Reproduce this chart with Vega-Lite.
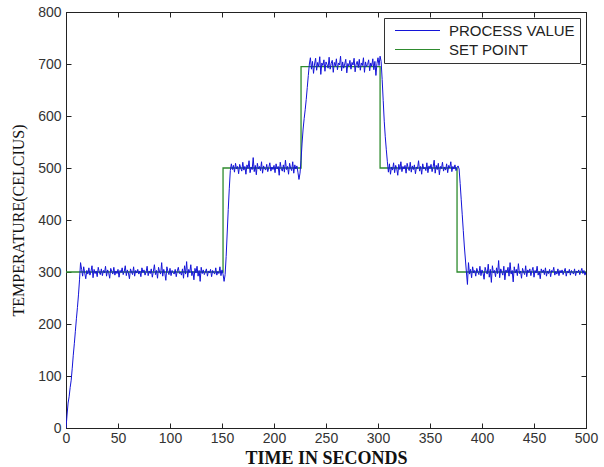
{
  "$schema": "https://vega.github.io/schema/vega-lite/v6.json",
  "width": 520,
  "height": 416,
  "autosize": {"type": "none"},
  "padding": {"left": 66, "top": 12, "right": 18, "bottom": 39},
  "background": "white",
  "config": {
    "view": {"stroke": "#222", "strokeWidth": 1},
    "axis": {
      "grid": false,
      "domainColor": "#222",
      "tickColor": "#222",
      "tickSize": -5,
      "labelFlush": false,
      "labelOverlap": false,
      "labelFont": "Liberation Sans",
      "labelFontSize": 14,
      "labelColor": "#333",
      "titleColor": "#111"
    },
    "legend": {
      "labelFont": "Liberation Sans",
      "labelFontSize": 15,
      "labelColor": "#222"
    }
  },
  "datasets": {
    "pv": [
      {"t":0,"v":0},{"t":1,"v":25},{"t":2,"v":48},{"t":3,"v":60},{"t":4,"v":78},{"t":5,"v":92},{"t":6,"v":115},{"t":7,"v":140},{"t":8,"v":162},{"t":9,"v":186},{"t":10,"v":210},{"t":11,"v":232},{"t":12,"v":256},{"t":13,"v":285},
      {"t":14,"v":318},{"t":15,"v":305},{"t":16,"v":292},{"t":17,"v":310},{"t":18,"v":298},{"t":19,"v":287},{"t":20,"v":303},{"t":21,"v":296},{"t":22,"v":308},{"t":23,"v":294},{"t":24,"v":301},{"t":25,"v":312},{"t":26,"v":289},{"t":27,"v":305},{"t":28,"v":297},{"t":29,"v":302},{"t":30,"v":291},{"t":31,"v":309},{"t":32,"v":300},{"t":33,"v":295},{"t":34,"v":306},{"t":35,"v":293},{"t":36,"v":303},{"t":37,"v":298},{"t":38,"v":311},{"t":39,"v":292},{"t":40,"v":304},{"t":41,"v":299},{"t":42,"v":288},{"t":43,"v":307},{"t":44,"v":301},{"t":45,"v":296},{"t":46,"v":309},{"t":47,"v":294},{"t":48,"v":302},{"t":49,"v":297},{"t":50,"v":305},{"t":51,"v":290},{"t":52,"v":303},{"t":53,"v":299},{"t":54,"v":308},{"t":55,"v":295},{"t":56,"v":301},{"t":57,"v":312},{"t":58,"v":293},{"t":59,"v":304},{"t":60,"v":298},{"t":61,"v":287},{"t":62,"v":306},{"t":63,"v":300},{"t":64,"v":295},{"t":65,"v":310},{"t":66,"v":292},{"t":67,"v":303},{"t":68,"v":298},{"t":69,"v":305},{"t":70,"v":296},{"t":71,"v":302},{"t":72,"v":291},{"t":73,"v":308},{"t":74,"v":299},{"t":75,"v":304},{"t":76,"v":294},{"t":77,"v":300},{"t":78,"v":311},{"t":79,"v":293},{"t":80,"v":302},{"t":81,"v":297},{"t":82,"v":306},{"t":83,"v":290},{"t":84,"v":301},{"t":85,"v":314},{"t":86,"v":295},{"t":87,"v":303},{"t":88,"v":288},{"t":89,"v":309},{"t":90,"v":300},{"t":91,"v":296},{"t":92,"v":318},{"t":93,"v":292},{"t":94,"v":305},{"t":95,"v":298},{"t":96,"v":284},{"t":97,"v":310},{"t":98,"v":301},{"t":99,"v":295},{"t":100,"v":307},{"t":101,"v":293},{"t":102,"v":303},{"t":103,"v":299},{"t":104,"v":296},{"t":105,"v":305},{"t":106,"v":291},{"t":107,"v":302},{"t":108,"v":309},{"t":109,"v":297},{"t":110,"v":300},{"t":111,"v":294},{"t":112,"v":306},{"t":113,"v":288},{"t":114,"v":312},{"t":115,"v":296},{"t":116,"v":320},{"t":117,"v":290},{"t":118,"v":305},{"t":119,"v":299},{"t":120,"v":314},{"t":121,"v":293},{"t":122,"v":301},{"t":123,"v":285},{"t":124,"v":307},{"t":125,"v":298},{"t":126,"v":311},{"t":127,"v":292},{"t":128,"v":303},{"t":129,"v":282},{"t":130,"v":309},{"t":131,"v":297},{"t":132,"v":304},{"t":133,"v":295},{"t":134,"v":300},{"t":135,"v":306},{"t":136,"v":292},{"t":137,"v":302},{"t":138,"v":298},{"t":139,"v":305},{"t":140,"v":291},{"t":141,"v":303},{"t":142,"v":299},{"t":143,"v":296},{"t":144,"v":308},{"t":145,"v":294},{"t":146,"v":301},{"t":147,"v":297},{"t":148,"v":310},{"t":149,"v":293},{"t":150,"v":304},{"t":151,"v":296},{"t":152,"v":282},
      {"t":153,"v":295},{"t":154,"v":330},{"t":155,"v":375},{"t":156,"v":420},{"t":157,"v":460},{"t":158,"v":495},{"t":159,"v":508},
      {"t":160,"v":497},{"t":161,"v":505},{"t":162,"v":492},{"t":163,"v":509},{"t":164,"v":498},{"t":165,"v":503},{"t":166,"v":489},{"t":167,"v":507},{"t":168,"v":500},{"t":169,"v":494},{"t":170,"v":511},{"t":171,"v":496},{"t":172,"v":503},{"t":173,"v":488},{"t":174,"v":506},{"t":175,"v":499},{"t":176,"v":514},{"t":177,"v":491},{"t":178,"v":502},{"t":179,"v":497},{"t":180,"v":520},{"t":181,"v":493},{"t":182,"v":505},{"t":183,"v":487},{"t":184,"v":509},{"t":185,"v":498},{"t":186,"v":503},{"t":187,"v":495},{"t":188,"v":512},{"t":189,"v":490},{"t":190,"v":504},{"t":191,"v":499},{"t":192,"v":496},{"t":193,"v":507},{"t":194,"v":493},{"t":195,"v":501},{"t":196,"v":510},{"t":197,"v":494},{"t":198,"v":502},{"t":199,"v":497},{"t":200,"v":505},{"t":201,"v":491},{"t":202,"v":508},{"t":203,"v":498},{"t":204,"v":503},{"t":205,"v":486},{"t":206,"v":511},{"t":207,"v":499},{"t":208,"v":494},{"t":209,"v":506},{"t":210,"v":492},{"t":211,"v":515},{"t":212,"v":497},{"t":213,"v":503},{"t":214,"v":488},{"t":215,"v":509},{"t":216,"v":500},{"t":217,"v":495},{"t":218,"v":512},{"t":219,"v":490},{"t":220,"v":506},{"t":221,"v":498},{"t":222,"v":504},{"t":223,"v":492},{"t":224,"v":478},
      {"t":225,"v":490},{"t":226,"v":515},{"t":227,"v":548},{"t":228,"v":575},{"t":229,"v":595},{"t":230,"v":612},{"t":231,"v":632},{"t":232,"v":655},{"t":233,"v":678},{"t":234,"v":700},{"t":235,"v":712},
      {"t":236,"v":690},{"t":237,"v":705},{"t":238,"v":682},{"t":239,"v":700},{"t":240,"v":711},{"t":241,"v":688},{"t":242,"v":703},{"t":243,"v":695},{"t":244,"v":714},{"t":245,"v":680},{"t":246,"v":702},{"t":247,"v":697},{"t":248,"v":708},{"t":249,"v":686},{"t":250,"v":704},{"t":251,"v":699},{"t":252,"v":692},{"t":253,"v":713},{"t":254,"v":690},{"t":255,"v":701},{"t":256,"v":707},{"t":257,"v":684},{"t":258,"v":703},{"t":259,"v":696},{"t":260,"v":710},{"t":261,"v":689},{"t":262,"v":702},{"t":263,"v":698},{"t":264,"v":715},{"t":265,"v":687},{"t":266,"v":704},{"t":267,"v":692},{"t":268,"v":700},{"t":269,"v":709},{"t":270,"v":683},{"t":271,"v":701},{"t":272,"v":696},{"t":273,"v":707},{"t":274,"v":690},{"t":275,"v":703},{"t":276,"v":698},{"t":277,"v":711},{"t":278,"v":685},{"t":279,"v":700},{"t":280,"v":705},{"t":281,"v":693},{"t":282,"v":709},{"t":283,"v":688},{"t":284,"v":702},{"t":285,"v":697},{"t":286,"v":712},{"t":287,"v":684},{"t":288,"v":704},{"t":289,"v":695},{"t":290,"v":699},{"t":291,"v":708},{"t":292,"v":687},{"t":293,"v":702},{"t":294,"v":696},{"t":295,"v":710},{"t":296,"v":689},{"t":297,"v":705},{"t":298,"v":678},{"t":299,"v":701},{"t":300,"v":712},{"t":301,"v":697},{"t":302,"v":715},
      {"t":303,"v":705},{"t":304,"v":670},{"t":305,"v":630},{"t":306,"v":590},{"t":307,"v":560},{"t":308,"v":535},{"t":309,"v":512},{"t":310,"v":492},
      {"t":311,"v":508},{"t":312,"v":488},{"t":313,"v":502},{"t":314,"v":496},{"t":315,"v":510},{"t":316,"v":491},{"t":317,"v":505},{"t":318,"v":499},{"t":319,"v":486},{"t":320,"v":507},{"t":321,"v":497},{"t":322,"v":512},{"t":323,"v":493},{"t":324,"v":503},{"t":325,"v":498},{"t":326,"v":505},{"t":327,"v":490},{"t":328,"v":509},{"t":329,"v":500},{"t":330,"v":495},{"t":331,"v":511},{"t":332,"v":492},{"t":333,"v":504},{"t":334,"v":497},{"t":335,"v":506},{"t":336,"v":489},{"t":337,"v":502},{"t":338,"v":499},{"t":339,"v":514},{"t":340,"v":494},{"t":341,"v":503},{"t":342,"v":488},{"t":343,"v":508},{"t":344,"v":498},{"t":345,"v":501},{"t":346,"v":495},{"t":347,"v":510},{"t":348,"v":491},{"t":349,"v":504},{"t":350,"v":499},{"t":351,"v":507},{"t":352,"v":493},{"t":353,"v":502},{"t":354,"v":515},{"t":355,"v":490},{"t":356,"v":505},{"t":357,"v":497},{"t":358,"v":509},{"t":359,"v":487},{"t":360,"v":503},{"t":361,"v":499},{"t":362,"v":511},{"t":363,"v":494},{"t":364,"v":502},{"t":365,"v":496},{"t":366,"v":508},{"t":367,"v":491},{"t":368,"v":505},{"t":369,"v":500},{"t":370,"v":512},{"t":371,"v":493},{"t":372,"v":503},{"t":373,"v":498},{"t":374,"v":506},{"t":375,"v":495},{"t":376,"v":501},{"t":377,"v":504},
      {"t":378,"v":498},{"t":379,"v":470},{"t":380,"v":440},{"t":381,"v":410},{"t":382,"v":380},{"t":383,"v":350},{"t":384,"v":325},{"t":385,"v":300},{"t":386,"v":276},
      {"t":387,"v":318},{"t":388,"v":296},{"t":389,"v":305},{"t":390,"v":289},{"t":391,"v":310},{"t":392,"v":298},{"t":393,"v":303},{"t":394,"v":292},{"t":395,"v":307},{"t":396,"v":300},{"t":397,"v":295},{"t":398,"v":311},{"t":399,"v":293},{"t":400,"v":304},{"t":401,"v":298},{"t":402,"v":286},{"t":403,"v":309},{"t":404,"v":301},{"t":405,"v":296},{"t":406,"v":315},{"t":407,"v":290},{"t":408,"v":305},{"t":409,"v":280},{"t":410,"v":312},{"t":411,"v":298},{"t":412,"v":303},{"t":413,"v":291},{"t":414,"v":308},{"t":415,"v":297},{"t":416,"v":322},{"t":417,"v":289},{"t":418,"v":306},{"t":419,"v":300},{"t":420,"v":294},{"t":421,"v":311},{"t":422,"v":285},{"t":423,"v":304},{"t":424,"v":299},{"t":425,"v":309},{"t":426,"v":292},{"t":427,"v":318},{"t":428,"v":296},{"t":429,"v":303},{"t":430,"v":281},{"t":431,"v":310},{"t":432,"v":298},{"t":433,"v":305},{"t":434,"v":293},{"t":435,"v":316},{"t":436,"v":297},{"t":437,"v":302},{"t":438,"v":288},{"t":439,"v":307},{"t":440,"v":300},{"t":441,"v":295},{"t":442,"v":312},{"t":443,"v":291},{"t":444,"v":304},{"t":445,"v":299},{"t":446,"v":306},{"t":447,"v":293},{"t":448,"v":302},{"t":449,"v":309},{"t":450,"v":290},{"t":451,"v":303},{"t":452,"v":298},{"t":453,"v":311},{"t":454,"v":294},{"t":455,"v":301},{"t":456,"v":287},{"t":457,"v":306},{"t":458,"v":299},{"t":459,"v":304},{"t":460,"v":295},{"t":461,"v":308},{"t":462,"v":292},{"t":463,"v":302},{"t":464,"v":297},{"t":465,"v":305},{"t":466,"v":291},{"t":467,"v":303},{"t":468,"v":300},{"t":469,"v":309},{"t":470,"v":294},{"t":471,"v":301},{"t":472,"v":296},{"t":473,"v":306},{"t":474,"v":293},{"t":475,"v":303},{"t":476,"v":298},{"t":477,"v":304},{"t":478,"v":295},{"t":479,"v":301},{"t":480,"v":307},{"t":481,"v":292},{"t":482,"v":302},{"t":483,"v":298},{"t":484,"v":305},{"t":485,"v":294},{"t":486,"v":303},{"t":487,"v":299},{"t":488,"v":296},{"t":489,"v":306},{"t":490,"v":293},{"t":491,"v":302},{"t":492,"v":299},{"t":493,"v":304},{"t":494,"v":295},{"t":495,"v":301},{"t":496,"v":307},{"t":497,"v":297},{"t":498,"v":303},{"t":499,"v":294},{"t":500,"v":300}
    ],
    "sp": [
      {"t":0,"v":300},{"t":151,"v":500},{"t":226,"v":695},{"t":302,"v":500},{"t":376,"v":300},{"t":500,"v":300}
    ]
  },
  "layer": [
    {
      "data": {"name": "sp"},
      "mark": {"type": "line", "interpolate": "step-after", "strokeWidth": 1.3, "clip": true},
      "encoding": {
        "x": {"field": "t", "type": "quantitative", "scale": {"domain": [0, 500], "nice": false},
          "axis": {"values": [0,50,100,150,200,250,300,350,400,450,500], "title": "TIME IN SECONDS", "titleFont": "Liberation Serif", "titleFontSize": 18, "titleFontWeight": "bold", "labelPadding": 8, "titlePadding": 4}},
        "y": {"field": "v", "type": "quantitative", "scale": {"domain": [0, 800], "nice": false},
          "axis": {"values": [0,100,200,300,400,500,600,700,800], "title": "TEMPERATURE(CELCIUS)", "titleFont": "Liberation Serif", "titleFontSize": 16, "titleFontWeight": "normal", "labelPadding": 10, "titlePadding": 11}},
        "color": {"datum": "SET POINT", "type": "nominal",
          "scale": {"domain": ["PROCESS VALUE", "SET POINT"], "range": ["#1414d8", "#2e8b2e"]},
          "legend": {"title": null, "orient": "top-right", "offset": 6, "symbolType": "M-5,0H5", "symbolSize": 81, "symbolStrokeWidth": 1.2, "symbolOffset": 21, "strokeColor": "#333", "fillColor": "white", "padding": 5, "labelOffset": 24, "rowPadding": 3, "labelFontSize": 15}}
      }
    },
    {
      "data": {"name": "pv"},
      "mark": {"type": "line", "strokeWidth": 1, "clip": true},
      "encoding": {
        "x": {"field": "t", "type": "quantitative", "axis": null},
        "y": {"field": "v", "type": "quantitative", "axis": null},
        "color": {"datum": "PROCESS VALUE", "type": "nominal"}
      }
    },
    {
      "data": {"name": "sp"},
      "mark": {"type": "line", "opacity": 0},
      "encoding": {
        "x": {"field": "t", "type": "quantitative", "axis": {"orient": "top", "labels": false, "title": null, "values": [0,50,100,150,200,250,300,350,400,450,500]}},
        "y": {"field": "v", "type": "quantitative", "axis": {"orient": "right", "labels": false, "title": null, "values": [0,100,200,300,400,500,600,700,800]}}
      }
    }
  ],
  "resolve": {"axis": {"x": "independent", "y": "independent"}}
}
